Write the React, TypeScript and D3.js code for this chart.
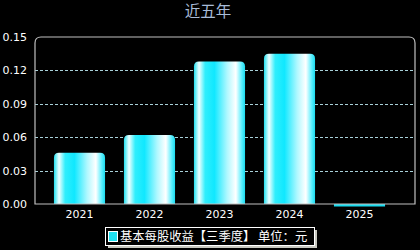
import React from "react";
import * as d3 from "d3";

const categories = ["2021", "2022", "2023", "2024", "2025"];
const values = [0.046, 0.062, 0.128, 0.135, -0.002];
const yTicks = [0, 0.03, 0.06, 0.09, 0.12, 0.15];
const title = "近五年";
const legendLabel = "基本每股收益【三季度】 单位：元";

export default function App() {
  const W = 420, H = 250;
  const left = 35, right = 415, top = 37, bottom = 204;
  const x = d3.scaleBand<string>().domain(categories).range([44.5, 394.5]).paddingInner(0.27).paddingOuter(0.135);
  const y = d3.scaleLinear().domain([0, 0.15]).range([bottom, top]);
  const r = 6;
  const borderPath = `M${left},${bottom} L${left},${top + r} Q${left},${top} ${left + r},${top} L${right - r},${top} Q${right},${top} ${right},${top + r} L${right},${bottom} Z`;
  const font = "'DejaVu Sans', 'Liberation Sans', sans-serif";
  const cjk = "'Noto Sans CJK SC', sans-serif";

  const barPath = (x0: number, w: number, yt: number, yb: number) => {
    const rr = Math.min(5, (yb - yt));
    return `M${x0},${yb} L${x0},${yt + rr} Q${x0},${yt} ${x0 + rr},${yt} L${x0 + w - rr},${yt} Q${x0 + w},${yt} ${x0 + w},${yt + rr} L${x0 + w},${yb} Z`;
  };

  return (
    <svg width={W} height={H} style={{ position: "absolute", left: 0, top: 0, background: "#000" }}>
      <defs>
        <linearGradient id="barGrad" x1="0" x2="1" y1="0" y2="0">
          <stop offset="0%" stopColor="#20e0f0" />
          <stop offset="10%" stopColor="#f0ffff" />
          <stop offset="22%" stopColor="#30eefc" />
          <stop offset="40%" stopColor="#10e8ff" />
          <stop offset="65%" stopColor="#b0f8ff" />
          <stop offset="82%" stopColor="#ffffff" />
          <stop offset="93%" stopColor="#60f0ff" />
          <stop offset="100%" stopColor="#18dcf0" />
        </linearGradient>
      </defs>
      <rect x={0} y={0} width={W} height={H} fill="#000" />
      <text x={208} y={17} textAnchor="middle" fill="#a8bcd8" fontSize={15.5} fontFamily={cjk}>{title}</text>
      {yTicks.filter(t => t > 0 && t < 0.15).map(t => (
        <line key={t} x1={left} x2={right} y1={Math.round(y(t)) + 0.5} y2={Math.round(y(t)) + 0.5}
          stroke="#a8d0d8" strokeWidth={1} strokeDasharray="3,2" />
      ))}
      {categories.map((c, i) => {
        const v = values[i];
        const x0 = x(c)!;
        const w = x.bandwidth();
        if (v >= 0) {
          return <path key={c} d={barPath(x0, w, y(v), y(0))} fill="url(#barGrad)" />;
        }
        return <rect key={c} x={x0} y={y(0)} width={w} height={Math.max(2.5, y(v) - y(0))} fill="#18dcf0" />;
      })}
      <path d={borderPath} fill="none" stroke="#c0c0c0" strokeWidth={1.2} />
      {yTicks.map(t => (
        <text key={t} x={27} y={y(t) + 4} textAnchor="end" fill="#fff" fontSize={11} fontFamily={font}>{t.toFixed(2)}</text>
      ))}
      {categories.map(c => (
        <text key={c} x={x(c)! + x.bandwidth() / 2} y={218} textAnchor="middle" fill="#fff" fontSize={11} fontFamily={font}>{c}</text>
      ))}
      <rect x={108} y={230} width={209} height={18} fill="#c8c8c0" />
      <rect x={105.5} y={227.5} width={209} height={18} fill="#000" stroke="#fff" strokeWidth={1} />
      <rect x={108.5} y={231.5} width={9} height={10} fill="#20e0f0" stroke="#fff" strokeWidth={1} />
      <text x={120} y={241} fill="#fff" fontSize={12.3} fontFamily={cjk}>{legendLabel}</text>
    </svg>
  );
}
